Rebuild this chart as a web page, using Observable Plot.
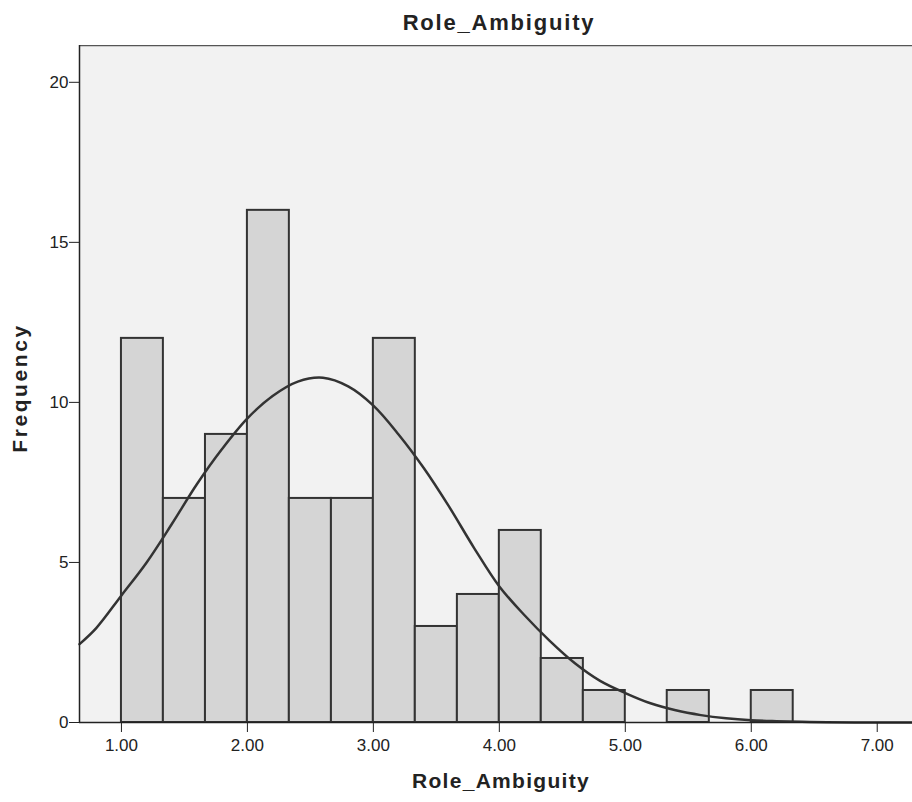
<!DOCTYPE html>
<html><head><meta charset="utf-8">
<script src="https://cdn.jsdelivr.net/npm/d3@7"></script>
<script src="https://cdn.jsdelivr.net/npm/@observablehq/plot@0.6"></script>
<style>
body{margin:0;background:#fff;font-family:"Liberation Sans",Arial,sans-serif}
#title{width:912px;height:45px;box-sizing:border-box;padding-left:86px;text-align:center;font-weight:bold;font-size:22px;letter-spacing:1.8px;line-height:46px;color:#222}
</style></head><body>
<div id="title">Role_Ambiguity</div>
<div id="chart"></div>
<script>
// Histogram bins (lower/upper edge) and frequencies
const binLower = [1.000, 1.333, 1.667, 2.000, 2.333, 2.667, 3.000, 3.333, 3.667, 4.000, 4.333, 4.667, 5.000, 5.333, 5.667, 6.000];
const binUpper = [1.333, 1.667, 2.000, 2.333, 2.667, 3.000, 3.333, 3.667, 4.000, 4.333, 4.667, 5.000, 5.333, 5.667, 6.000, 6.333];
const counts   = [12, 7, 9, 16, 7, 7, 12, 3, 4, 6, 2, 1, 0, 1, 0, 1];

// Normal curve
const curveX = [0.667, 0.8, 1.0, 1.2, 1.4, 1.6, 1.8, 2.0, 2.2, 2.4, 2.6, 2.8, 3.0, 3.2, 3.4, 3.6, 3.8, 4.0, 4.2, 4.4, 4.6, 4.8, 5.0, 5.2, 5.4, 5.6, 5.8, 6.0, 6.2, 6.4, 6.6, 7.0, 7.28];
const curveY = [2.45, 2.95, 3.97, 5.0, 6.2, 7.45, 8.55, 9.5, 10.2, 10.65, 10.77, 10.5, 9.9, 9.0, 7.95, 6.75, 5.45, 4.25, 3.35, 2.55, 1.85, 1.3, 0.92, 0.6, 0.38, 0.23, 0.13, 0.07, 0.04, 0.02, 0.01, 0.0, 0.0];

const xTicks = [1, 2, 3, 4, 5, 6, 7];
const yTicks = [0, 5, 10, 15, 20];
const xDomain = [0.667, 7.28];
const yDomain = [0, 21.15];

const bins = binLower.map((d, i) => ({x1: d, x2: binUpper[i], y: counts[i]})).filter(d => d.y > 0);
const curve = curveX.map((x, i) => ({x, y: curveY[i]}));

const plot = Plot.plot({
  width: 912,
  height: 757,
  marginTop: 0,
  marginLeft: 79,
  marginRight: 0,
  marginBottom: 80,
  style: {fontFamily: "'Liberation Sans', Arial, sans-serif", color: "#222", background: "#fff"},
  x: {domain: xDomain},
  y: {domain: yDomain},
  marks: [
    Plot.frame({fill: "#f2f2f2", stroke: null}),
    Plot.rectY(bins, {x1: "x1", x2: "x2", y: "y", fill: "#d5d5d5", stroke: "#333", strokeWidth: 2}),
    Plot.line(curve, {x: "x", y: "y", curve: "catmull-rom", stroke: "#333", strokeWidth: 2.5}),
    Plot.ruleY([0], {stroke: "#222", strokeWidth: 1.5}),
    Plot.ruleY([yDomain[1]], {stroke: "#555", strokeWidth: 1.5}),
    Plot.ruleX([xDomain[0]], {stroke: "#222", strokeWidth: 1.5}),
    Plot.axisX({ticks: xTicks, tickFormat: d => d.toFixed(2), tickSize: 10, tickPadding: 6, fontSize: 17, label: null, stroke: "#222"}),
    Plot.axisY({ticks: yTicks, tickSize: 10, tickPadding: 1, fontSize: 17, label: null, stroke: "#222"})
  ]
});
document.getElementById("chart").appendChild(plot);

// axis titles
const svg = d3.select(plot);
svg.append("text")
  .attr("x", 501).attr("y", 743)
  .attr("text-anchor", "middle")
  .attr("font-weight", "bold").attr("font-size", 21).attr("letter-spacing", "1.3px")
  .attr("fill", "#222")
  .text("Role_Ambiguity");
svg.append("text")
  .attr("transform", "translate(27,343) rotate(-90)")
  .attr("text-anchor", "middle")
  .attr("font-weight", "bold").attr("font-size", 21).attr("letter-spacing", "2.6px")
  .attr("fill", "#222")
  .text("Frequency");
</script>
</body></html>
